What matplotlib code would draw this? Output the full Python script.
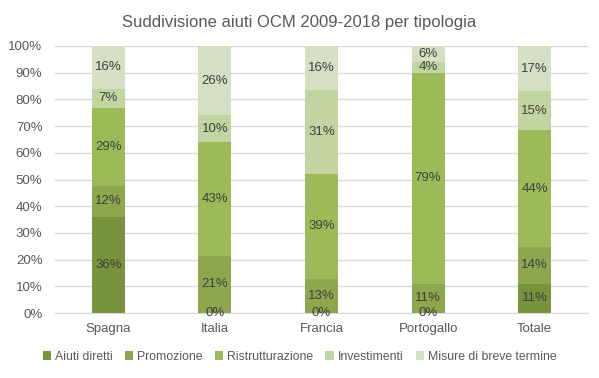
import matplotlib.pyplot as plt
import numpy as np

plt.rcParams['font.family'] = ['Liberation Sans', 'DejaVu Sans']

paesi = ["Spagna", "Italia", "Francia", "Portogallo", "Totale"]
aiuti_diretti = [36.1, 0, 0, 0, 11.0]
promozione = [11.6, 21.4, 12.7, 10.9, 13.7]
ristrutturazione = [29.2, 42.6, 39.4, 79.1, 43.8]
investimenti = [7.0, 10.0, 31.4, 4.1, 14.6]
breve_termine = [16.1, 26.0, 16.4, 5.9, 16.9]

serie = [
    ("Aiuti diretti", aiuti_diretti, "#77933C"),
    ("Promozione", promozione, "#8EA64E"),
    ("Ristrutturazione", ristrutturazione, "#9BBB59"),
    ("Investimenti", investimenti, "#C2D5A0"),
    ("Misure di breve termine", breve_termine, "#D4E0C1"),
]

fig = plt.figure(figsize=(5.99, 3.78), dpi=100)
ax = fig.add_axes([55 / 599, 65 / 378, 533 / 599, 267 / 378])

x = np.arange(len(paesi))
base = np.zeros(len(paesi))
for nome, valori, colore in serie:
    v = np.array(valori) / 100
    ax.bar(x, v, 0.31, bottom=base, color=colore, label=nome, zorder=2)
    for xi, b, h, raw in zip(x, base, v, valori):
        # Excel mostra 0% solo per gli aiuti diretti
        if raw == 0 and nome != "Aiuti diretti":
            continue
        ax.text(xi, b + h / 2, f"{raw:.0f}%", ha="center", va="center",
                fontsize=9.5, color="#404040", zorder=3)
    base = base + v

ax.set_xlim(-0.5, len(paesi) - 0.5)
ax.set_ylim(0, 1)
ax.set_yticks(np.arange(0, 1.01, 0.1))
ax.set_yticklabels([f"{int(t)}%" for t in np.arange(0, 101, 10)])
ax.set_xticks(x)
ax.set_xticklabels(paesi)
ax.tick_params(axis="both", length=0, labelsize=9.5, colors="#595959")
ax.tick_params(axis="y", pad=9)
ax.tick_params(axis="x", pad=7)
ax.grid(axis="y", color="#D9D9D9", linewidth=1, zorder=0)
for s in ["top", "right", "left"]:
    ax.spines[s].set_visible(False)
ax.spines["bottom"].set_color("#D9D9D9")

fig.text(0.5, 1 - 22 / 378, "Suddivisione aiuti OCM 2009-2018 per tipologia",
         ha="center", va="center", fontsize=12, color="#595959")

fig.legend(loc="center", bbox_to_anchor=(0.5, 1 - 357 / 378), ncol=5,
           frameon=False, fontsize=8.8, handlelength=0.7, handleheight=0.7,
           handletextpad=0.3, columnspacing=1.0, labelcolor="#595959")

fig.savefig("out.png", dpi=100)
